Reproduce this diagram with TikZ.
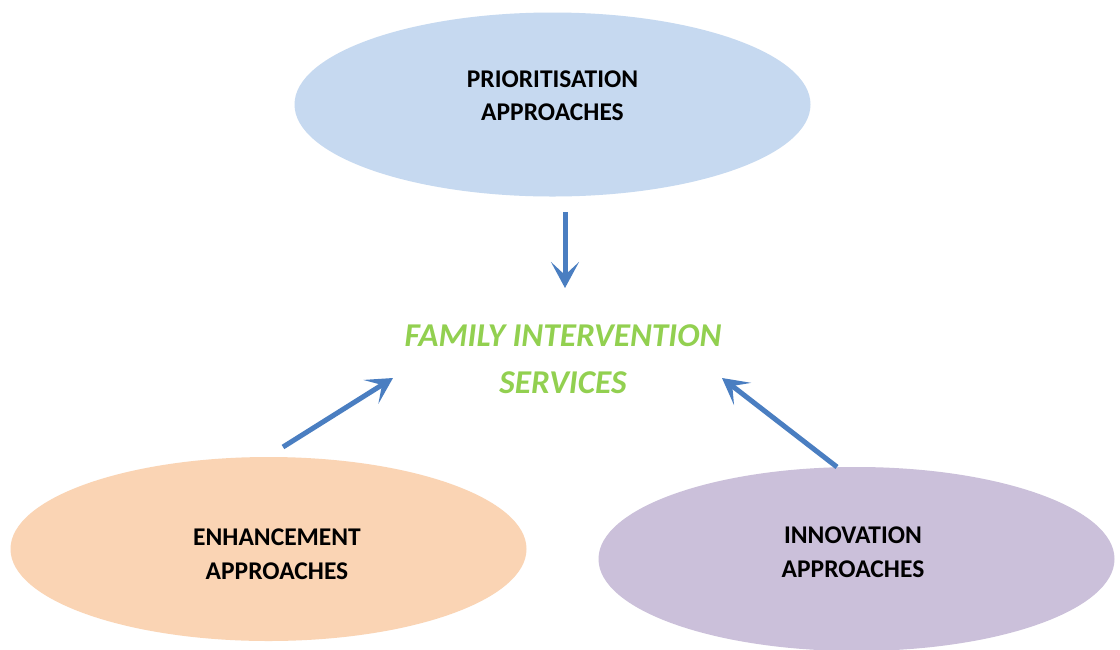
\documentclass[tikz,border=0pt]{standalone}
\usepackage{fontspec}
\setmainfont{Carlito}
\usetikzlibrary{shapes.geometric,arrows.meta}
\definecolor{blueell}{RGB}{198,217,240}
\definecolor{peachell}{RGB}{250,212,180}
\definecolor{lilacell}{RGB}{203,192,218}
\definecolor{arrowblue}{RGB}{74,126,193}
\definecolor{textgreen}{RGB}{146,208,80}
\tikzset{
  bubble/.style={ellipse, draw=none, minimum width=516pt, minimum height=184pt, inner sep=0pt},
  boxtext/.style={anchor=base, inner sep=0pt, font=\fontsize{25.5}{30}\selectfont\bfseries, text=black},
  midtext/.style={anchor=base, inner sep=0pt, font=\fontsize{33.3}{40}\selectfont\bfseries\itshape, text=textgreen},
  flow/.style={draw=arrowblue, line width=5pt, -{Stealth[length=26pt,width=28pt,inset=13pt]}}
}
\begin{document}
\begin{tikzpicture}[x=1pt,y=-1pt]
\useasboundingbox (0,0) rectangle (1120,649);
\fill[white] (0,0) rectangle (1120,649);
\node[bubble, fill=blueell] (prio) at (552.5,104.5) {};
\node[bubble, fill=peachell] (enh) at (268.5,549) {};
\node[bubble, fill=lilacell] (inno) at (856.5,559) {};
\node[boxtext] (prio1) at (552.5,87) {PRIORITISATION};
\node[boxtext] (prio2) at (552.5,120) {APPROACHES};
\node[boxtext] (enh1) at (277,545) {ENHANCEMENT};
\node[boxtext] (enh2) at (277,579.5) {APPROACHES};
\node[boxtext] (inno1) at (853,543) {INNOVATION};
\node[boxtext] (inno2) at (853,577) {APPROACHES};
\node[midtext] (fis1) at (563,346) {FAMILY INTERVENTION};
\node[midtext] (fis2) at (563,393.3) {SERVICES};
\coordinate (dA) at (565,212);
\coordinate (dB) at (565,288);
\coordinate (lA) at (283,447);
\coordinate (lB) at (393,378);
\coordinate (rA) at (837,467);
\coordinate (rB) at (722,378);
\draw[flow] (dA) -- (dB);
\draw[flow] (lA) -- (lB);
\draw[flow] (rA) -- (rB);
\end{tikzpicture}
\end{document}
